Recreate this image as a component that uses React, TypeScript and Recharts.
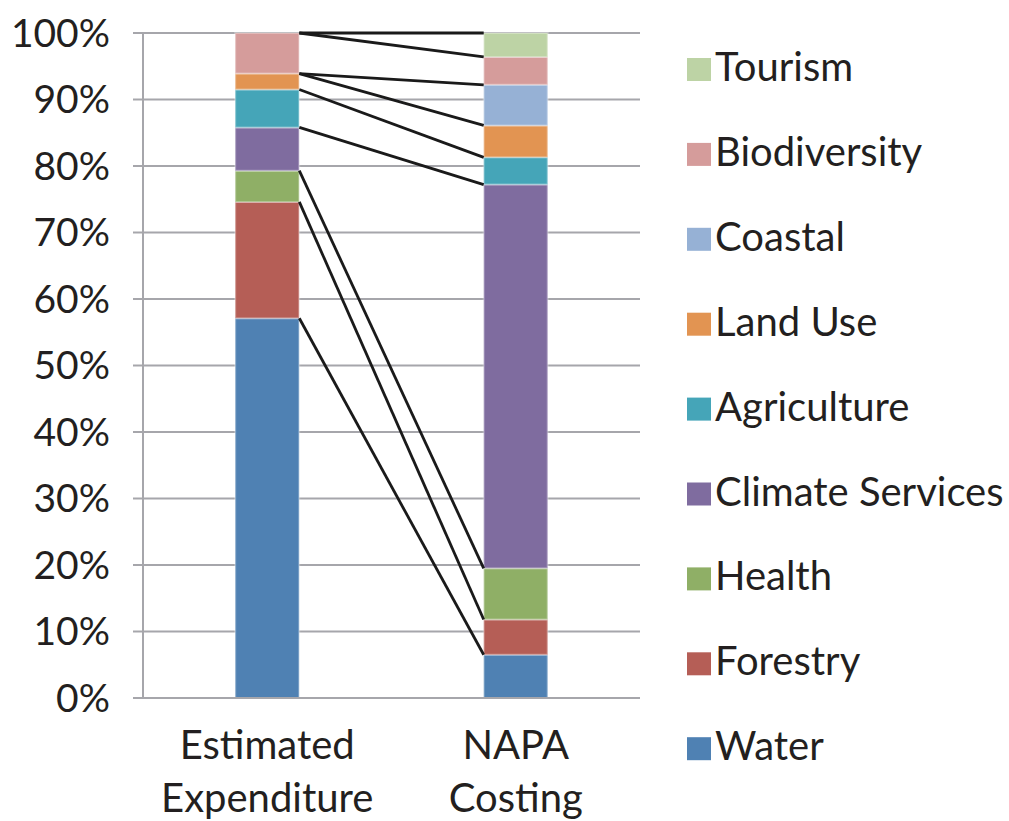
import React from 'react';
import { BarChart, Bar, XAxis, YAxis, CartesianGrid, Legend, ReferenceLine } from 'recharts';

const categories = ['Estimated Expenditure', 'NAPA Costing'];
const seriesNames = ['Water', 'Forestry', 'Health', 'Climate Services', 'Agriculture', 'Land Use', 'Coastal', 'Biodiversity', 'Tourism'];
const estimatedValues = [57.1, 17.5, 4.7, 6.5, 5.7, 2.4, 0, 6.1, 0];
const napaValues = [6.5, 5.3, 7.7, 57.7, 4.1, 4.8, 6.1, 4.2, 3.6];
const seriesColors = ['#4f81b3', '#b55e56', '#8faf66', '#7f6c9f', '#45a5b8', '#e29452', '#96b1d5', '#d59c9b', '#bdd3a5'];
const yTicks = [0, 10, 20, 30, 40, 50, 60, 70, 80, 90, 100];

const valuesByCategory = [estimatedValues, napaValues];
const data = categories.map((c, ci) => {
  const row: Record<string, any> = { category: c };
  seriesNames.forEach((s, si) => {
    row[s] = valuesByCategory[ci][si];
  });
  return row;
});

const cumulative = (vals: number[]) => {
  let acc = 0;
  return vals.map((v) => {
    acc += v;
    return Math.round(acc * 10) / 10;
  });
};
const estTops = cumulative(estimatedValues);
const napaTops = cumulative(napaValues);

// fraction of each category band left empty on each side of a bar
const GAP = 0.371;
// the hidden position axis spans the plot as [0, 1]; each category band is half of it
const BAND = 1 / categories.length;

const FONT = 'Lato, "Open Sans", sans-serif';
const TEXT = '#231f20';
const GRID = '#a6a6ab';

const XTick = (props: any) => {
  const { x, y, payload } = props;
  const words = String(payload.value).split(' ');
  return (
    <g>
      <text x={x} y={y} textAnchor="middle" fontSize={40} fill={TEXT} fontFamily={FONT}>
        {words.map((w, i) => (
          <tspan key={i} x={x} y={y + 61 + i * 53}>
            {w}
          </tspan>
        ))}
      </text>
    </g>
  );
};

const LegendContent = (props: any) => {
  const payload: any[] = props.payload || [];
  const items = [...seriesNames].reverse().map((name) => {
    const p = payload.find((e) => e.value === name);
    const idx = seriesNames.indexOf(name);
    return { name, color: (p && p.color) || seriesColors[idx] };
  });
  return (
    <svg width={322} height={821} style={{ overflow: 'visible', display: 'block' }}>
      {items.map((it, i) => {
        const base = 81 + i * 84.9;
        return (
          <g key={it.name}>
            <rect x={0} y={base - 23} width={24} height={23} fill={it.color} />
            <text x={28} y={base} fontSize={40} fill={TEXT} fontFamily={FONT}>
              {it.name}
            </text>
          </g>
        );
      })}
    </svg>
  );
};

export default function App() {
  return (
    <div style={{ position: 'absolute', left: 0, top: 0, background: '#fff' }}>
      <BarChart
        width={1009}
        height={821}
        data={data}
        margin={{ top: 33, right: 369, bottom: 0, left: 0 }}
        barCategoryGap={`${GAP * 100}%`}
        style={{ fontFamily: FONT }}
      >
        <CartesianGrid vertical={false} stroke={GRID} strokeWidth={2} />
        <XAxis
          dataKey="category"
          height={123}
          tickLine={false}
          tickSize={0}
          tickMargin={0}
          axisLine={{ stroke: GRID, strokeWidth: 2 }}
          tick={<XTick />}
          interval={0}
        />
        <XAxis xAxisId="pos" type="number" domain={[0, 1]} allowDataOverflow hide />
        <YAxis
          width={143}
          domain={[0, 100]}
          ticks={yTicks}
          interval={0}
          tickFormatter={(v: number) => `${v}%`}
          tickSize={10}
          tickMargin={23}
          tickLine={{ stroke: GRID, strokeWidth: 2 }}
          axisLine={{ stroke: GRID, strokeWidth: 2 }}
          tick={{ fontSize: 39, fill: TEXT, fontFamily: FONT }}
        />
        {seriesNames.map((s, i) => (
          <Bar
            key={s}
            dataKey={s}
            name={s}
            stackId="a"
            fill={seriesColors[i]}
            stroke="rgba(255,255,255,0.3)"
            strokeWidth={2}
            isAnimationActive={false}
          />
        ))}
        {seriesNames.map((s, i) => (
          <ReferenceLine
            key={`sl-${s}`}
            xAxisId="pos"
            ifOverflow="visible"
            segment={[
              { x: BAND * (1 - GAP), y: estTops[i] },
              { x: BAND * (1 + GAP), y: napaTops[i] },
            ]}
            stroke="#1a1a1a"
            strokeWidth={2.8}
          />
        ))}
        <Legend
          layout="vertical"
          align="right"
          verticalAlign="top"
          content={<LegendContent />}
          wrapperStyle={{ left: 687, top: 0, right: 'auto', bottom: 'auto', width: 0, height: 0, overflow: 'visible' }}
        />
      </BarChart>
    </div>
  );
}
